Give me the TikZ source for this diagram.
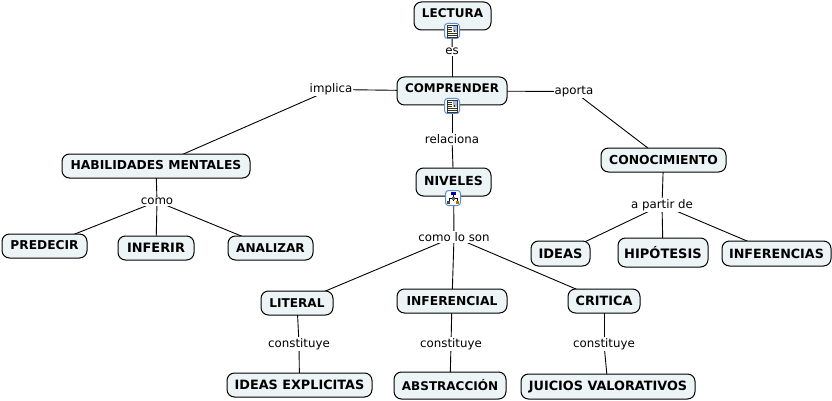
\documentclass[tikz,border=0pt]{standalone}
\usepackage{fontspec}
\setmainfont{DejaVu Sans}
\pgfdeclarelayer{paper}
\pgfdeclarelayer{bg}
\pgfsetlayers{paper,bg,main}
\definecolor{boxfill}{HTML}{EDF4F6}
\definecolor{iconblue}{HTML}{5A8FD0}
\tikzset{
  concept/.style={draw=black,line width=1pt,rounded corners=7.5pt,fill=boxfill,inner xsep=0pt,inner ysep=0pt,text=black,align=center},
  linklabel/.style={fill=white,inner xsep=1pt,inner ysep=1pt,font=\fontsize{11.8}{13}\selectfont,text=black},
  conn/.style={draw=black,line width=0.9pt},
  iconbox/.style={draw=iconblue,line width=1pt,fill=white,rounded corners=3pt,minimum width=15pt,minimum height=15pt,inner sep=0pt}
}
% name, text, x1, x2, y1, y2, font size, lift of the text
\newcommand{\cbox}[8]{\node[concept,minimum width=#4pt-#3pt,minimum height=#6pt-#5pt,
   text height={0.73*#7pt-2*#8pt},text depth=0pt,font=\fontsize{#7}{13}\selectfont\bfseries] (#1) at ({(#3+#4)/2},{(#5+#6)/2}) {#2};}
\newcommand{\docicon}[3]{%
  \node[iconbox] (#1) at (#2,#3) {};
  \begin{scope}[shift={(#1.center)}]
    \fill[yellow!12!white] (-5,-6) rectangle (5.5,6);
    \draw[black!80,line width=0.5pt] (-5,-6) rectangle (5.5,6);
    \foreach \yy in {-3.5,-1.5,0.5} \draw[black!80,line width=0.8pt] (-4,\yy) -- (0,\yy);
    \foreach \yy in {2.5,4.5} \draw[black!80,line width=0.8pt] (-4,\yy) -- (4.5,\yy);
    \fill[iconblue!60!white] (0.7,-5) rectangle (4.6,0.8);
    \fill[red!60!black] (1.5,-1) rectangle (3.2,0.8);
  \end{scope}}
\newcommand{\mapicon}[3]{%
  \node[iconbox] (#1) at (#2,#3) {};
  \begin{scope}[shift={(#1.center)}]
    \draw[black,line width=0.5pt] (0,-3) -- (0,3) (-4,0) -- (4,0) (-4,0) -- (-4,3) (4,0) -- (4,3);
    \fill[blue!60!black] (-2.5,-6) rectangle (2.5,-3);
    \fill[black!70] (-5.8,2.5) rectangle (-2.8,5.5);
    \fill[orange!80!black] (2.8,2.5) rectangle (5.8,5.5);
    \fill[black!60] (-1.5,-1.5) rectangle (1.5,1.5);
  \end{scope}}
\begin{document}
\begin{tikzpicture}[x=1pt,y=-1pt]
\useasboundingbox (0,0) rectangle (832,401);
\begin{pgfonlayer}{paper}
\fill[white] (0,0) rectangle (832,401);
\end{pgfonlayer}
% concepts
\cbox{lectura}{LECTURA}{414}{491}{2}{30}{12}{2.5}
\cbox{comprender}{COMPRENDER}{397}{507}{77}{105}{11.9}{2.5}
\cbox{habilidades}{HABILIDADES MENTALES}{62}{250}{154}{178}{12.3}{0.5}
\cbox{conocimiento}{CONOCIMIENTO}{601}{726}{148}{172}{12.35}{0}
\cbox{niveles}{NIVELES}{416}{491}{168}{196}{12.5}{1.5}
\cbox{predecir}{PREDECIR}{2}{87}{234}{258}{12.2}{0.5}
\cbox{inferir}{INFERIR}{118}{194}{236}{260}{12.9}{0}
\cbox{analizar}{ANALIZAR}{228}{313}{236}{260}{12.1}{0}
\cbox{ideas}{IDEAS}{531}{590}{241}{266}{13}{0}
\cbox{hipotesis}{HIPÓTESIS}{618}{708}{238}{267}{13}{-1}
\cbox{inferencias}{INFERENCIAS}{722}{831}{241}{266}{12.7}{0}
\cbox{literal}{LITERAL}{261}{333}{291}{315}{12.1}{0}
\cbox{inferencial}{INFERENCIAL}{397}{507}{289}{313}{12.3}{0}
\cbox{critica}{CRITICA}{568}{640}{289}{313}{12.8}{0}
\cbox{explicitas}{IDEAS EXPLICITAS}{227}{372}{373}{397}{12.8}{0.5}
\cbox{abstraccion}{ABSTRACCIÓN}{394}{506}{372}{399}{12}{-0.5}
\cbox{juicios}{JUICIOS VALORATIVOS}{521}{695}{374}{399}{12.8}{0.5}
% labels
\node[linklabel] (es) at (452,51.5) {es};
\node[linklabel] (implica) at (331,89.5) {implica};
\node[linklabel] (aporta) at (574,91.5) {aporta};
\node[linklabel] (relaciona) at (452,139) {relaciona};
\node[linklabel] (como) at (157,201.5) {como};
\node[linklabel] (apartir) at (662,205) {a partir de};
\node[linklabel] (comolo) at (454,237) {como lo son};
\node[linklabel] (cons1) at (299,344) {constituye};
\node[linklabel] (cons2) at (451,344) {constituye};
\node[linklabel] (cons3) at (604,344) {constituye};
% connectors
\begin{pgfonlayer}{bg}
\draw[conn] (lectura.center) -- (es.center);
\draw[conn] (es.center) -- (comprender.center);
\draw[conn] (comprender.center) -- (implica.center);
\draw[conn] (implica.center) -- (habilidades.center);
\draw[conn] (comprender.center) -- (aporta.center);
\draw[conn] (aporta.center) -- (conocimiento.center);
\draw[conn] (comprender.center) -- (relaciona.center);
\draw[conn] (relaciona.center) -- (niveles.center);
\draw[conn] (habilidades.center) -- (como.center);
\draw[conn] (como.center) -- (predecir.center);
\draw[conn] (como.center) -- (inferir.center);
\draw[conn] (como.center) -- (analizar.center);
\draw[conn] (conocimiento.center) -- (apartir.center);
\draw[conn] (apartir.center) -- (ideas.center);
\draw[conn] (apartir.center) -- (hipotesis.center);
\draw[conn] (apartir.center) -- (inferencias.center);
\draw[conn] (niveles.center) -- (comolo.center);
\draw[conn] (comolo.center) -- (literal.center);
\draw[conn] (comolo.center) -- (inferencial.center);
\draw[conn] (comolo.center) -- (critica.center);
\draw[conn] (literal.center) -- (cons1.center);
\draw[conn] (cons1.center) -- (explicitas.center);
\draw[conn] (inferencial.center) -- (cons2.center);
\draw[conn] (cons2.center) -- (abstraccion.center);
\draw[conn] (critica.center) -- (cons3.center);
\draw[conn] (cons3.center) -- (juicios.center);
\end{pgfonlayer}
% icons
\docicon{iconA}{452}{31}
\docicon{iconB}{452}{106}
\mapicon{iconC}{453}{198}
\end{tikzpicture}
\end{document}
